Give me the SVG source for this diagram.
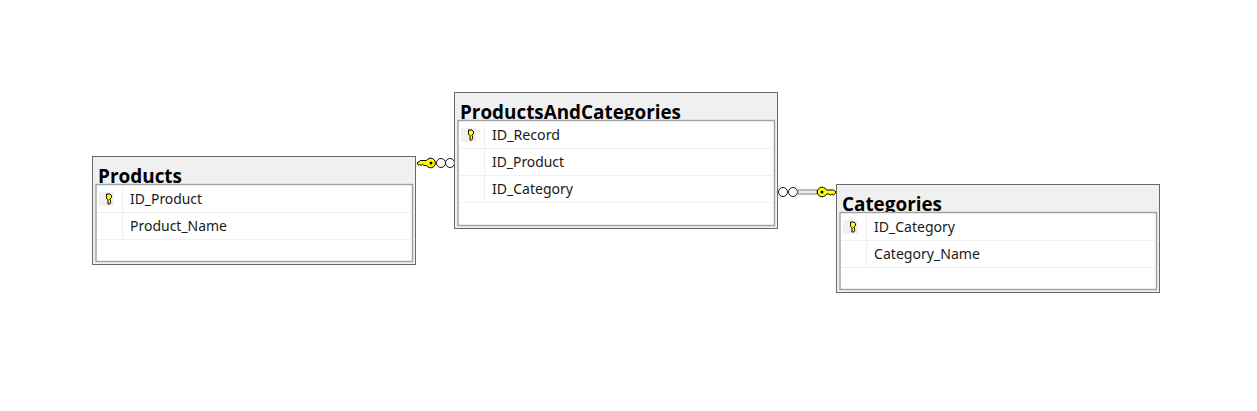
<svg xmlns="http://www.w3.org/2000/svg" width="1257" height="411" viewBox="0 0 1257 411">
<style>
.outer{fill:#f0f0f0;stroke:#696969;stroke-width:1}
.inner{fill:#fff;stroke:#a0a0a0;stroke-width:1.4}
.sep{stroke:#f0f0f0;stroke-width:1.2;fill:none}
.title{font:bold 20px "Open Sans","Noto Sans","Liberation Sans",sans-serif;fill:#000}
.row{font:14.5px "Noto Sans","Open Sans","Liberation Sans",sans-serif;fill:#1a1a1a}
.keybg{fill:#f0f0f0}
.key{fill:#ffff00;stroke:#000;stroke-width:1}
.ring{fill:#fff;stroke:#000;stroke-width:.9}
</style>
<defs>
<g id="pk">
<rect class="keybg" x="-9" y="-7" width="15" height="14"/>
<path class="key" d="M-1.500-5h3.500l1.500 1.500v2l-1.500 1.500v1l1 .8-1 .8 1 .8-1.500 1.700h-1.500v-4.600l-1.500-1.200v-2z"/>
</g>
</defs>
<g id="connectors">
<g id="conn-products">
<path class="key" d="M417 163l3.500-2.500h6a4.800 4.800 0 1 1 0 5h-2.500l-1.500-1.200-1.500 1.200-1.500-1.200-1 .9z"/>
<circle cx="431" cy="163" r="1.500" fill="#000"/>
<circle class="ring" cx="441" cy="163" r="4.500"/>
<circle class="ring" cx="450" cy="163" r="4.500"/>
</g>
<g id="conn-categories">
<circle class="ring" cx="783" cy="192" r="4.500"/>
<circle class="ring" cx="793" cy="192" r="4.500"/>
<rect x="798" y="190" width="19" height="4" fill="#eee" stroke="#808080" stroke-width="1"/>
<path class="key" d="M836 192l-2.500-2h-7a4.800 4.800 0 1 0 0 4h2.500l1.500 1.200 1.500-1.200 1.500 1.200 1-.9z"/>
<circle cx="822" cy="192" r="1.500" fill="#000"/>
</g>
</g>
<g id="products">
<rect class="outer" x="92.500" y="156.500" width="323" height="108"/>
<text class="title" x="98" y="183" textLength="84" lengthAdjust="spacingAndGlyphs">Products</text>
<rect class="inner" x="96" y="184.500" width="316.500" height="77"/>
<path class="sep" d="M97 212.500H412M97 239.500H412M122.500 185V239"/>
<use href="#pk" x="108" y="199"/>
<text class="row" x="130" y="204" textLength="72" lengthAdjust="spacingAndGlyphs">ID_Product</text>
<text class="row" x="130" y="231" textLength="97" lengthAdjust="spacingAndGlyphs">Product_Name</text>
</g>
<g id="productsandcategories">
<rect class="outer" x="454.500" y="92.500" width="323" height="136"/>
<text class="title" x="460" y="119" textLength="221" lengthAdjust="spacingAndGlyphs">ProductsAndCategories</text>
<rect class="inner" x="458" y="120.500" width="316.500" height="105"/>
<path class="sep" d="M459 148.500H774M459 175.500H774M459 202.500H774M484.500 121V202"/>
<use href="#pk" x="470" y="135"/>
<text class="row" x="492" y="140" textLength="68" lengthAdjust="spacingAndGlyphs">ID_Record</text>
<text class="row" x="492" y="167" textLength="72" lengthAdjust="spacingAndGlyphs">ID_Product</text>
<text class="row" x="492" y="194" textLength="81" lengthAdjust="spacingAndGlyphs">ID_Category</text>
</g>
<g id="categories">
<rect class="outer" x="836.500" y="184.500" width="323" height="108"/>
<text class="title" x="842" y="211" textLength="100" lengthAdjust="spacingAndGlyphs">Categories</text>
<rect class="inner" x="840" y="212.500" width="316.500" height="77"/>
<path class="sep" d="M841 240.500H1156M841 267.500H1156M866.500 213V267"/>
<use href="#pk" x="852" y="227"/>
<text class="row" x="874" y="232" textLength="81" lengthAdjust="spacingAndGlyphs">ID_Category</text>
<text class="row" x="874" y="259" textLength="106" lengthAdjust="spacingAndGlyphs">Category_Name</text>
</g>
</svg>
